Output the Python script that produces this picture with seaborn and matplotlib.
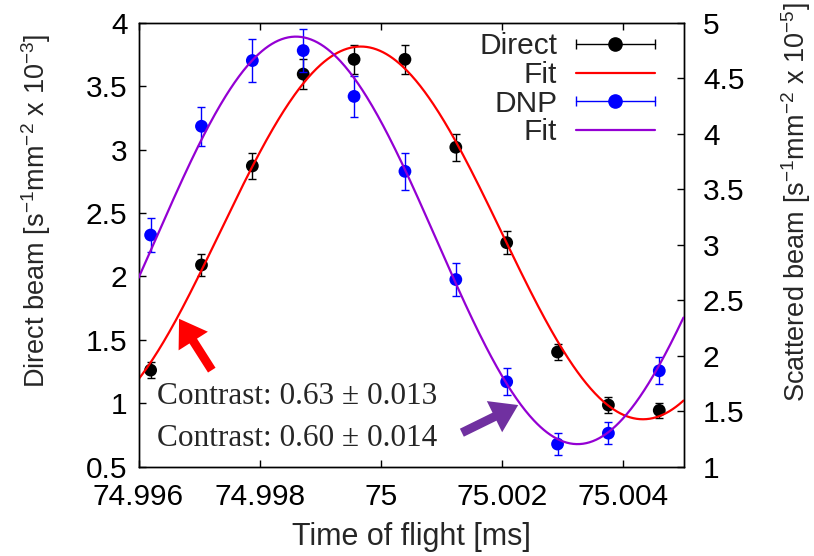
import numpy as np
import pandas as pd
import matplotlib
matplotlib.use("Agg")
import matplotlib.pyplot as plt
import seaborn as sns
from matplotlib.lines import Line2D
from matplotlib.legend_handler import HandlerBase

# ---------------- data ----------------
tof_ms = [74.9962, 74.99704, 74.99788, 74.99872, 74.99956, 75.0004,
          75.00124, 75.00208, 75.00292, 75.00376, 75.0046]
direct = [1.261, 2.090, 2.871, 3.595, 3.711, 3.711, 3.018, 2.266, 1.404, 0.986, 0.944]
direct_err = [0.065, 0.089, 0.102, 0.116, 0.116, 0.116, 0.106, 0.092, 0.061, 0.061, 0.059]
dnp = [3.087, 4.067, 4.659, 4.749, 4.336, 3.661, 2.686, 1.765, 1.204, 1.302, 1.864]
dnp_err = [0.155, 0.178, 0.190, 0.196, 0.182, 0.167, 0.145, 0.120, 0.096, 0.100, 0.121]

# fitted sinusoid parameters: mean, contrast, peak position, period
direct_fit = dict(mean=2.343, contrast=0.627, peak=74.99967, period=0.00932)
dnp_fit = dict(mean=3.039, contrast=0.604, peak=74.99860, period=0.00930)

x_ticks = [74.996, 74.998, 75.0, 75.002, 75.004]
x_tick_labels = ["74.996", "74.998", "75", "75.002", "75.004"]
left_ticks = [0.5, 1, 1.5, 2, 2.5, 3, 3.5, 4]
left_tick_labels = ["0.5", "1", "1.5", "2", "2.5", "3", "3.5", "4"]
right_ticks = [1, 1.5, 2, 2.5, 3, 3.5, 4, 4.5, 5]
right_tick_labels = ["1", "1.5", "2", "2.5", "3", "3.5", "4", "4.5", "5"]
legend_labels = ["Direct", "Fit", "DNP", "Fit"]
contrast_texts = ["Contrast: 0.63 \u00b1 0.013", "Contrast: 0.60 \u00b1 0.014"]

# ---------------- style ----------------
sns.set_theme(style="ticks")
plt.rcParams["font.family"] = ["Liberation Sans", "DejaVu Sans"]
plt.rcParams["mathtext.default"] = "regular"
plt.rcParams["axes.linewidth"] = 1.0

FS_TICK = 21.5
FS_XLAB = 22
FS_YLAB = 19.5
C_RED = "#ff0000"
C_BLUE = "#0000ff"
C_PURPLE = "#9400d3"
C_ARROW_PURPLE = "#7030a0"

fig = plt.figure(figsize=(8.14, 5.56), dpi=100)
ax = fig.add_axes([138.5 / 814, (556 - 466.7) / 556, 545 / 814, 444 / 556])
ax2 = ax.twinx()

df_pts = pd.DataFrame({"tof": tof_ms, "direct": direct, "dnp": dnp})


def fit_curve(p, xs):
    return p["mean"] * (1 + p["contrast"] * np.cos(2 * np.pi * (xs - p["peak"]) / p["period"]))


xs = np.linspace(74.996, 75.005, 500)
df_fit = pd.DataFrame({"tof": xs,
                       "direct_fit": fit_curve(direct_fit, xs),
                       "dnp_fit": fit_curve(dnp_fit, xs)})

# Direct beam (left axis)
ax.errorbar(tof_ms, direct, yerr=direct_err, fmt="none", ecolor="black",
            elinewidth=1.0, capsize=3, capthick=1.0, zorder=2)
sns.scatterplot(data=df_pts, x="tof", y="direct", ax=ax, color="black",
                s=85, edgecolor="none", zorder=3, legend=False)
sns.lineplot(data=df_fit, x="tof", y="direct_fit", ax=ax, color=C_RED,
             linewidth=1.6, zorder=4, legend=False)

# DNP (right axis)
ax2.errorbar(tof_ms, dnp, yerr=dnp_err, fmt="none", ecolor=C_BLUE,
             elinewidth=1.0, capsize=3, capthick=1.0, zorder=2)
sns.scatterplot(data=df_pts, x="tof", y="dnp", ax=ax2, color=C_BLUE,
                s=85, edgecolor="none", zorder=3, legend=False)
sns.lineplot(data=df_fit, x="tof", y="dnp_fit", ax=ax2, color=C_PURPLE,
             linewidth=1.6, zorder=4, legend=False)

# axes limits & ticks
ax.set_xlim(74.996, 75.005)
ax.set_ylim(0.5, 4)
ax2.set_ylim(1, 5)
ax.set_xticks(x_ticks)
ax.set_xticklabels(x_tick_labels)
ax.set_yticks(left_ticks)
ax.set_yticklabels(left_tick_labels)
ax2.set_yticks(right_ticks)
ax2.set_yticklabels(right_tick_labels)

ax.tick_params(axis="x", which="both", direction="in", top=True, bottom=True,
               length=5, width=1, labelsize=FS_TICK, pad=12, colors="black")
ax.tick_params(axis="y", direction="in", left=True, right=False,
               length=5, width=1, labelsize=FS_TICK, pad=8, colors="black")
ax2.tick_params(axis="y", direction="in", right=True, left=False,
                length=5, width=1, labelsize=FS_TICK, pad=14, colors="black")
for a in (ax, ax2):
    for s in a.spines.values():
        s.set_visible(True)
        s.set_color("black")
        s.set_linewidth(1.0)

ax.set_xlabel("Time of flight [ms]", fontsize=FS_XLAB)
ax.xaxis.set_label_coords(0.5, -0.158)
ax.xaxis.label.set_va("center")

ax.set_ylabel("Direct beam [s$^{-1}$mm$^{-2}$ x 10$^{-3}$]", fontsize=FS_YLAB)
ax.yaxis.set_label_coords(-0.188, 0.576)
ax.yaxis.label.set(va="center", ha="center", rotation_mode="default")

ax2.set_ylabel("Scattered beam [s$^{-1}$mm$^{-2}$ x 10$^{-5}$]", fontsize=FS_YLAB)
ax2.yaxis.set_label_coords(1.2064, 0.596)
ax2.yaxis.label.set(va="center", ha="center", rotation_mode="default", rotation=90)

# arrows
arrow_style = "simple,head_length=0.95,head_width=1.25,tail_width=0.32"
ax.annotate("", xy=(74.99667, 1.666), xytext=(74.99721, 1.261),
            arrowprops=dict(arrowstyle=arrow_style, mutation_scale=20, color=C_RED,
                            lw=0, shrinkA=0, shrinkB=0),
            zorder=5)
ax.annotate("", xy=(75.00227, 0.986), xytext=(75.00134, 0.768),
            arrowprops=dict(arrowstyle=arrow_style, mutation_scale=20, color=C_ARROW_PURPLE,
                            lw=0, shrinkA=0, shrinkB=0),
            zorder=5)

# contrast texts
ax.text(74.9963, 1.051, contrast_texts[0], fontsize=22.5, va="center", ha="left",
        family=["Liberation Serif", "DejaVu Serif"], zorder=6)
ax.text(74.9963, 0.724, contrast_texts[1], fontsize=22.5, va="center", ha="left",
        family=["Liberation Serif", "DejaVu Serif"], zorder=6)


# legend with horizontal error-bar handles
class HandlerHErr(HandlerBase):
    def create_artists(self, legend, orig_handle, xdescent, ydescent, width, height,
                       fontsize, trans):
        col = orig_handle.get_color()
        y = height / 2 - ydescent
        x0, x1 = -xdescent, width - xdescent
        line = Line2D([x0, x1], [y, y], color=col, lw=1.0)
        caps = Line2D([x0, x1], [y, y], ls="none", marker="|", markersize=7,
                      markeredgewidth=1.0, color=col)
        dot = Line2D([(x0 + x1) / 2], [y], ls="none", marker="o", markersize=9.5,
                     markerfacecolor=col, markeredgecolor=col)
        for a in (line, caps, dot):
            a.set_transform(trans)
        return [line, caps, dot]


h_direct = Line2D([], [], color="black")
h_fit1 = Line2D([], [], color=C_RED, lw=1.6)
h_dnp = Line2D([], [], color=C_BLUE)
h_fit2 = Line2D([], [], color=C_PURPLE, lw=1.6)
leg = ax2.legend([h_direct, h_fit1, h_dnp, h_fit2], legend_labels,
                 handler_map={h_direct: HandlerHErr(), h_dnp: HandlerHErr()},
                 loc="upper right", bbox_to_anchor=(0.9477, 0.978),
                 borderaxespad=0, borderpad=0, frameon=False, markerfirst=False,
                 fontsize=21.5, handlelength=2.65, handletextpad=0.62, labelspacing=0.02)

fig.savefig("out.png", dpi=100)
